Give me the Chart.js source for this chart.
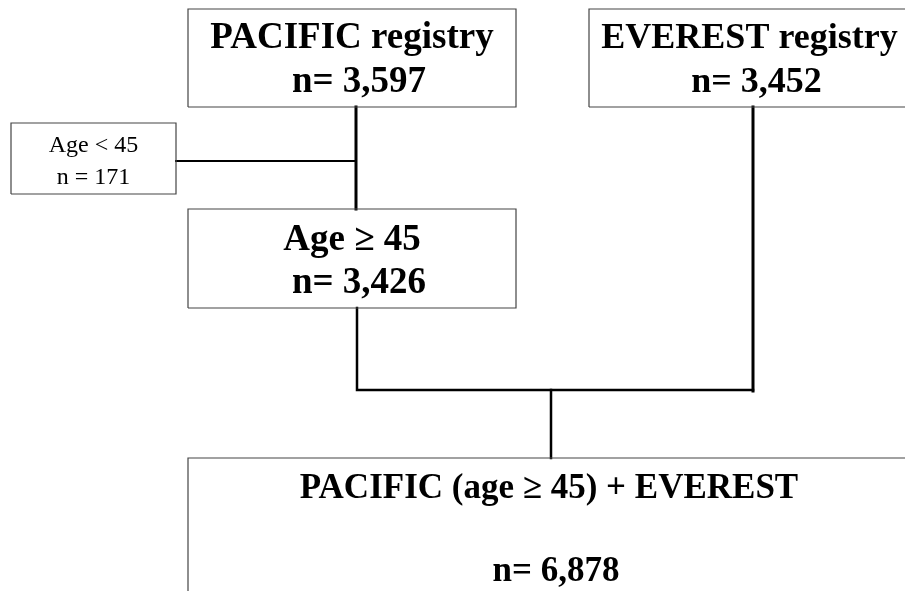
<!DOCTYPE html>
<html>
<head>
<meta charset="utf-8">
<title>PACIFIC + EVEREST flow</title>
<script src="https://cdn.jsdelivr.net/npm/chart.js@4/dist/chart.umd.min.js"></script>
<style>
  html, body { margin: 0; padding: 0; background: #fff; }
  #wrap { width: 905px; height: 591px; position: relative; }
</style>
</head>
<body>
<div id="wrap"><canvas id="flow"></canvas></div>
<script>
// ── Data ─────────────────────────────────────
const nodeNames  = ['PACIFIC registry', 'EVEREST registry', 'Age < 45', 'Age \u2265 45', 'PACIFIC (age \u2265 45) + EVEREST'];
const nodeCounts = [3597, 3452, 171, 3426, 6878];

// ── Layout (canvas units, y grows downward) ──
const boxes = [
  [188, 9, 516, 107],
  [589, 9, 912, 107],
  [11, 123, 176, 194],
  [188, 209, 516, 308],
  [188, 458, 912, 640]
];
const connectors = [
  { pts: [[356, 107], [356, 209]], w: 3 },
  { pts: [[176, 161], [356, 161]], w: 2 },
  { pts: [[357, 308], [357, 390], [753, 390]], w: 2.5 },
  { pts: [[753, 107], [753, 391]], w: 3 },
  { pts: [[551, 390], [551, 458]], w: 2.5 }
];
// text rows per node: baselines and font sizes
const nameRows  = [48, 48, 152, 250, 498];
const countRows = [92, 92, 184, 293, 581];
const fontSizes = [37, 36, 24, 37, 35];

const fmt = (i) => {
  const v = nodeCounts[i].toLocaleString('en-US');
  return i === 2 ? 'n = ' + v : 'n= ' + v;
};

// ── Datasets ─────────────────────────────────
const datasets = [];
boxes.forEach(b => {
  datasets.push({
    data: [{x: b[0], y: b[3]}, {x: b[0], y: b[1]}, {x: b[2], y: b[1]}, {x: b[2], y: b[3]}, {x: b[0], y: b[3]}],
    showLine: true, borderColor: '#444', borderWidth: 1.2, pointRadius: 0, fill: false, tension: 0
  });
});
connectors.forEach(c => {
  datasets.push({
    data: c.pts.map(p => ({x: p[0], y: p[1]})),
    showLine: true, borderColor: '#000', borderWidth: c.w, pointRadius: 0, fill: false, tension: 0,
    borderCapStyle: 'square'
  });
});

// ── Text plugin ──────────────────────────────
const labelPlugin = {
  id: 'nodeText',
  afterDatasetsDraw(chart) {
    const {ctx, scales: {x, y}} = chart;
    ctx.save();
    ctx.fillStyle = '#000';
    ctx.textAlign = 'center';
    ctx.textBaseline = 'alphabetic';
    boxes.forEach((b, i) => {
      const cx = x.getPixelForValue((b[0] + Math.min(b[2], 910)) / 2);
      const small = i === 2;
      ctx.font = (small ? '' : 'bold ') + fontSizes[i] + 'px "Liberation Serif", "Times New Roman", serif';
      ctx.fillText(nodeNames[i], cx, y.getPixelForValue(nameRows[i]));
      ctx.fillText(fmt(i), cx + (small ? 0 : 7), y.getPixelForValue(countRows[i]));
    });
    ctx.restore();
  }
};

new Chart(document.getElementById('flow'), {
  type: 'scatter',
  data: { datasets },
  options: {
    responsive: true,
    maintainAspectRatio: false,
    animation: false,
    layout: { padding: 0 },
    plugins: { legend: { display: false }, tooltip: { enabled: false } },
    scales: {
      x: { type: 'linear', min: 0, max: 905, display: false },
      y: { type: 'linear', min: 0, max: 591, reverse: true, display: false }
    },
    elements: { line: { borderJoinStyle: 'miter' } }
  },
  plugins: [labelPlugin]
});
</script>
</body>
</html>
